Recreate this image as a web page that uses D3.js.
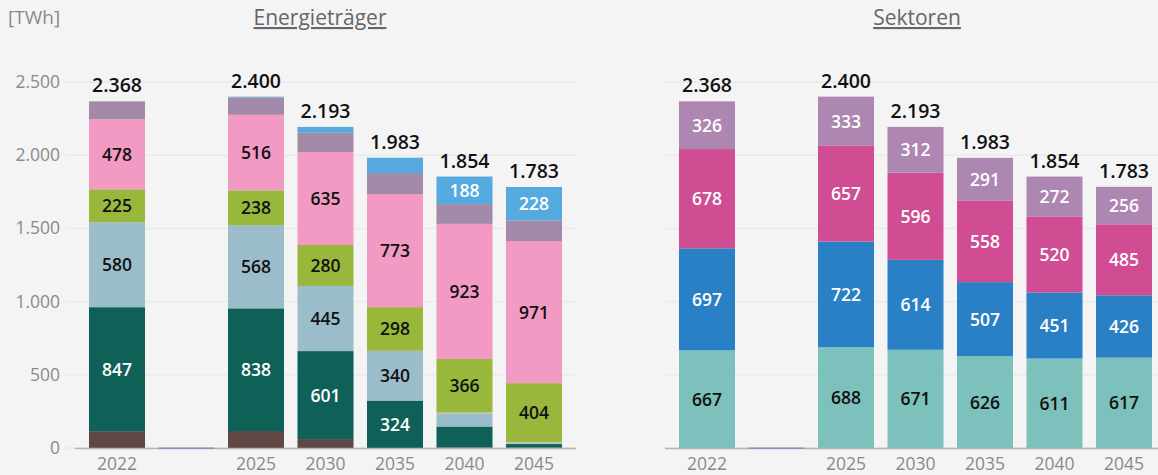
<!DOCTYPE html>
<html>
<head>
<meta charset="utf-8">
<script src="https://cdn.jsdelivr.net/npm/d3@7"></script>
<style>
  html, body { margin: 0; padding: 0; background: #f4f4f4; }
  svg { display: block; font-family: "Open Sans", "Noto Sans", sans-serif; }
</style>
</head>
<body>
<div id="chart"></div>
<script>
// categories (the blank one is the empty slot between 2022 and 2025)
var years = ["2022", "gap", "2025", "2030", "2035", "2040", "2045"];
var yTicks = [0, 500, 1000, 1500, 2000, 2500];

// Energietraeger, bottom to top
var energyNames = ["Kohle", "Erdgas", "Oel", "Sonstige", "Biomasse", "Strom", "Fernwaerme", "Wasserstoff"];
var kohle       = [115, 0, 116, 61, 0, 4, 2];
var erdgas      = [847, 0, 838, 601, 324, 143, 25];
var oel         = [580, 0, 568, 445, 340, 85, 6];
var sonstige    = [0, 0, 0, 0, 0, 10, 6];
var biomasse    = [225, 0, 238, 280, 298, 366, 404];
var strom       = [478, 0, 516, 635, 773, 923, 971];
var fernwaerme  = [123, 0, 119, 131, 143, 135, 141];
var wasserstoff = [0, 0, 5, 40, 105, 188, 228];
var energyTotals = [2368, null, 2400, 2193, 1983, 1854, 1783];

// Sektoren, bottom to top
var sectorNames = ["Industrie", "Verkehr", "Haushalte", "GHD"];
var industrie  = [667, 0, 688, 671, 626, 611, 617];
var verkehr    = [697, 0, 722, 614, 507, 451, 426];
var haushalte  = [678, 0, 657, 596, 558, 520, 485];
var ghd        = [326, 0, 333, 312, 291, 272, 256];
var sectorTotals = [2368, null, 2400, 2193, 1983, 1854, 1783];

var W = 1158, H = 475;
var de = d3.formatLocale({decimal: ",", thousands: ".", grouping: [3], currency: ["", " €"]});
var fmt = de.format(",d");

var svg = d3.select("#chart").append("svg")
  .attr("width", W).attr("height", H);

svg.append("rect").attr("width", W).attr("height", H).attr("fill", "#f4f4f4");

var y = d3.scaleLinear().domain([0, 2500]).range([448, 82]);

svg.append("text")
  .attr("x", 8).attr("y", 24)
  .attr("fill", "#8a8a8a").attr("font-size", 19)
  .text("[TWh]");

// y labels only on the left panel
svg.append("g").selectAll("text").data(yTicks).join("text")
  .attr("x", 60).attr("y", function(d) { return y(d) + 6; })
  .attr("text-anchor", "end")
  .attr("fill", "#8a8a8a").attr("font-size", 17.5)
  .text(function(d) { return fmt(d); });

function drawPanel(opt) {
  var x = d3.scaleBand().domain(years)
    .range(opt.range).paddingInner(0.194).paddingOuter(0.097);

  var g = svg.append("g");

  // gridlines
  g.selectAll("line.grid").data(yTicks).join("line")
    .attr("class", "grid")
    .attr("x1", opt.grid[0]).attr("x2", opt.grid[1])
    .attr("y1", function(d) { return y(d); }).attr("y2", function(d) { return y(d); })
    .attr("stroke", "#e9e9eb").attr("stroke-width", 1.5);

  // title
  g.append("text")
    .attr("x", opt.titleX).attr("y", 25)
    .attr("text-anchor", "middle")
    .attr("fill", "#666").attr("font-size", 21)
    .style("text-decoration", "underline")
    .text(opt.title);

  var rows = years.map(function(yr, i) {
    var r = {year: yr};
    opt.names.forEach(function(n, k) { r[n] = opt.series[k][i]; });
    return r;
  });
  var stacked = d3.stack().keys(opt.names)(rows);

  stacked.forEach(function(layer, k) {
    var lg = g.append("g");
    lg.selectAll("rect").data(layer.filter(function(d) { return d.data.year !== "gap"; })).join("rect")
      .attr("x", function(d) { return x(d.data.year); })
      .attr("width", x.bandwidth())
      .attr("y", function(d) { return y(d[1]); })
      .attr("height", function(d) { return y(d[0]) - y(d[1]); })
      .attr("fill", opt.colors[k]);

    lg.selectAll("text").data(layer.filter(function(d) { return d[1] - d[0] >= 170; })).join("text")
      .attr("x", function(d) { return x(d.data.year) + x.bandwidth() / 2; })
      .attr("y", function(d) { return (y(d[0]) + y(d[1])) / 2 + 6.5; })
      .attr("text-anchor", "middle")
      .attr("font-size", 17.5).attr("font-weight", 600)
      .attr("fill", opt.labelColors[k])
      .text(function(d) { return fmt(d[1] - d[0]); });
  });

  // totals
  var top = stacked[stacked.length - 1];
  g.selectAll("text.total").data(years.map(function(yr, i) {
    return {year: yr, total: opt.totals[i], top: top[i][1]};
  }).filter(function(d) { return d.total != null; })).join("text")
    .attr("class", "total")
    .attr("x", function(d) { return x(d.year) + x.bandwidth() / 2; })
    .attr("y", function(d) { return y(d.top) - 9; })
    .attr("text-anchor", "middle")
    .attr("font-size", 19.5).attr("font-weight", 600)
    .attr("fill", "#111")
    .text(function(d) { return fmt(d.total); });

  // axis line
  g.append("line")
    .attr("x1", opt.axis[0]).attr("x2", opt.axis[1])
    .attr("y1", y(0) + 0.5).attr("y2", y(0) + 0.5)
    .attr("stroke", "#b4b4b4").attr("stroke-width", 1.5);

  // empty slot marker
  g.append("rect")
    .attr("x", x("gap")).attr("width", x.bandwidth())
    .attr("y", y(0) - 0.5).attr("height", 1.5)
    .attr("fill", "#948cc6");

  // x labels
  g.selectAll("text.xl").data(years.filter(function(d) { return d !== "gap"; })).join("text")
    .attr("class", "xl")
    .attr("x", function(d) { return x(d) + x.bandwidth() / 2; })
    .attr("y", 470)
    .attr("text-anchor", "middle")
    .attr("fill", "#8a8a8a").attr("font-size", 17.5)
    .text(function(d) { return d; });
}

drawPanel({
  title: "Energieträger", titleX: 320,
  range: [82.25, 568.75], grid: [66, 576], axis: [75, 576],
  names: energyNames,
  series: [kohle, erdgas, oel, sonstige, biomasse, strom, fernwaerme, wasserstoff],
  colors: ["#5e4745", "#0f6157", "#9bbccb", "#c4c4c8", "#99b73b", "#f29ac4", "#a38aa9", "#55abdf"],
  labelColors: ["#fff", "#fff", "#111", "#111", "#111", "#111", "#fff", "#fff"],
  totals: energyTotals
});

drawPanel({
  title: "Sektoren", titleX: 917,
  range: [672.25, 1158.75], grid: [665, 1158], axis: [665, 1158],
  names: sectorNames,
  series: [industrie, verkehr, haushalte, ghd],
  colors: ["#7cc1bb", "#2a80c5", "#d04d93", "#ad86b1"],
  labelColors: ["#111", "#fff", "#fff", "#fff"],
  totals: sectorTotals
});
</script>
</body>
</html>
